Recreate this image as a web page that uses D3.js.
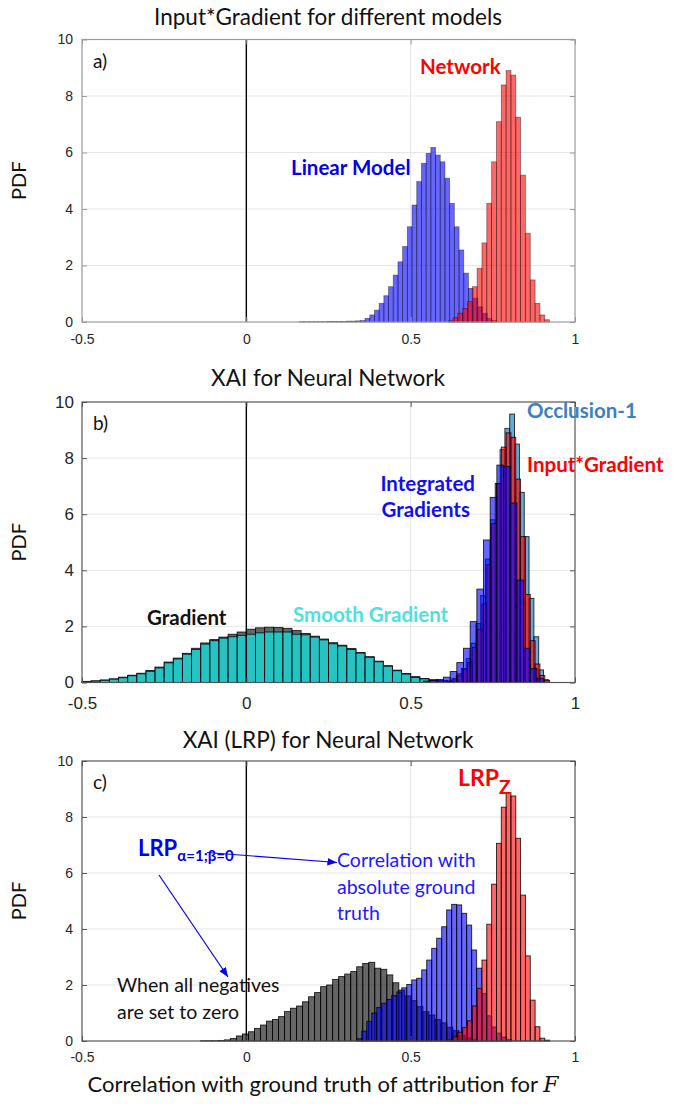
<!DOCTYPE html>
<html><head><meta charset="utf-8">
<script src="https://cdn.jsdelivr.net/npm/d3@7"></script>
<style>body{margin:0;background:#fff}svg{display:block}</style>
</head><body>
<svg id="chart" width="673" height="1104"></svg>
<script>
// ---------------- DATA ----------------
const xTicks = [-0.5, 0, 0.5, 1];
const xTickLabels = ["-0.5", "0", "0.5", "1"];
const yTicks = [0, 2, 4, 6, 8, 10];
const yTickLabels = ["0", "2", "4", "6", "8", "10"];

// Panel a) Input*Gradient for different models
const linearModelStart = 0.161, linearModelBin = 0.0143;
const linearModel = [0.01,0.01,0.01,0.01,0.01,0.01,0.02,0.02,0.02,0.02,0.03,0.03,0.04,0.05,
  0.13,0.25,0.42,0.66,0.93,1.25,1.66,2.13,2.67,3.37,4.14,4.97,5.62,5.97,6.18,5.91,5.67,5.09,
  4.20,3.37,2.55,1.73,1.19,0.84,0.54,0.31,0.13,0.05];
const networkStart = 0.614, networkBin = 0.0147;
const network = [0.04,0.15,0.31,0.48,0.72,1.25,1.90,2.80,4.20,5.67,7.09,8.39,8.90,8.74,7.25,5.20,3.14,1.49,0.66,0.25,0.08];

// Panel b) XAI for Neural Network
const gradStart = -0.5, gradBin = 0.02778;
const gradient = [0.04,0.06,0.09,0.13,0.19,0.26,0.33,0.43,0.55,0.73,0.87,1.04,1.22,1.41,1.53,1.62,1.72,1.80,
  1.90,1.95,1.97,1.96,1.93,1.85,1.75,1.65,1.55,1.42,1.33,1.21,1.07,0.92,0.76,0.60,0.44,0.32,0.21,0.14,0.10,0.07,0.05,0.03,0.02];
const smoothGradient = [0.03,0.05,0.08,0.12,0.17,0.24,0.31,0.40,0.52,0.70,0.84,1.01,1.18,1.37,1.49,1.58,1.63,1.68,
  1.72,1.77,1.80,1.80,1.80,1.72,1.70,1.62,1.52,1.38,1.30,1.18,1.05,0.90,0.74,0.58,0.42,0.30,0.18,0.13,0.06,0.05,0.04,0.03,0.02];
const occlusionStart = 0.625, occlusionBin = 0.0147;
const occlusion = [0.12,0.25,0.50,0.85,1.40,2.10,3.10,4.40,5.80,7.10,8.30,9.06,9.57,8.50,6.78,5.20,3.00,1.63,0.45,0.10];
const inputGradStart = 0.614, inputGradBin = 0.0147;
const inputGradient = [0.04,0.15,0.31,0.48,0.72,1.25,1.90,2.80,4.20,5.67,7.09,8.39,8.90,8.74,7.25,5.20,3.14,1.49,0.66,0.25,0.08];
const intGradStart = 0.539, intGradBin = 0.0203;
const integratedGradients = [0.05,0.08,0.11,0.19,0.39,0.71,1.22,2.17,3.33,5.08,6.60,7.75,7.70,6.40,3.65,1.22,0.50,0.15];

// Panel c) XAI (LRP) for Neural Network
const lrpABStart = -0.140, lrpABBin = 0.0183;
const lrpAlphaBeta = [0.01,0.01,0.01,0.02,0.04,0.09,0.18,0.25,0.33,0.45,0.57,0.71,0.77,0.87,1.05,1.17,1.25,1.40,1.58,1.73,
  1.94,2.00,2.20,2.30,2.39,2.48,2.65,2.77,2.81,2.60,2.56,2.36,2.08,1.82,1.61,1.44,1.23,1.05,0.93,0.77,0.65,0.49,0.37,0.21,0.12,0.05];
const lrpAbsStart = 0.336, lrpAbsBin = 0.0152;
const lrpAbs = [0.08,0.35,0.70,1.00,1.20,1.35,1.48,1.62,1.75,1.90,2.02,2.18,2.24,2.54,2.89,3.31,3.67,4.08,4.68,4.88,4.86,4.56,4.14,3.25,2.60,1.70,0.90,0.50,0.28,0.14,0.05];
const lrpZStart = 0.614, lrpZBin = 0.0147;
const lrpZ = [0.04,0.15,0.31,0.48,0.72,1.25,1.88,2.89,4.17,5.60,7.06,8.35,8.87,8.75,7.24,5.21,3.04,1.46,0.51,0.10,0.03];

// ---------------- DRAWING ----------------
const svg = d3.select("#chart");
const TXT = "Lato, 'Open Sans', sans-serif";
const TICKF = "'Liberation Sans', Arial, sans-serif";
const x = d3.scaleLinear().domain([-0.5, 1]).range([82, 575]);

function panel(cfg) {
  const y = d3.scaleLinear().domain([0, 10]).range([cfg.bottom, cfg.top]);
  const g = svg.append("g");
  g.selectAll(".gy").data(yTicks.filter(t => t > 0 && t < 10)).join("line")
    .attr("x1", x(-0.5)).attr("x2", x(1)).attr("y1", d => y(d)).attr("y2", d => y(d))
    .attr("stroke", "#e6e6e6").attr("stroke-width", 1);
  g.append("line").attr("x1", x(0.5)).attr("x2", x(0.5)).attr("y1", y(0)).attr("y2", y(10))
    .attr("stroke", "#e6e6e6").attr("stroke-width", 1);
  cfg.series.forEach(s => {
    g.append("g").selectAll("rect").data(s.values).join("rect")
      .attr("x", (d, i) => x(s.start + i * s.bin))
      .attr("width", (d, i) => x(s.start + (i + 1) * s.bin) - x(s.start + i * s.bin))
      .attr("y", d => y(d)).attr("height", d => y(0) - y(d))
      .attr("fill", s.color).attr("fill-opacity", s.alpha)
      .attr("stroke", "#000").attr("stroke-opacity", cfg.edgeOpacity).attr("stroke-width", cfg.edgeWidth);
  });
  g.append("line").attr("x1", x(0)).attr("x2", x(0)).attr("y1", y(0)).attr("y2", y(10))
    .attr("stroke", "#000").attr("stroke-width", 1.4);
  const ax = d3.axisBottom(x).tickValues(xTicks).tickFormat((d, i) => xTickLabels[i]).tickSize(-5).tickPadding(cfg.xPad);
  const gx = g.append("g").attr("transform", `translate(0,${cfg.bottom})`).call(ax);
  const ay = d3.axisLeft(y).tickValues(yTicks).tickFormat((d, i) => yTickLabels[i]).tickSize(-5).tickPadding(cfg.yPad);
  const gy = g.append("g").attr("transform", `translate(${x(-0.5)},0)`).call(ay);
  const ay2 = d3.axisRight(y).tickValues(yTicks).tickFormat("").tickSize(-5);
  g.append("g").attr("transform", `translate(${x(1)},0)`).call(ay2);
  const ax2 = d3.axisTop(x).tickValues(xTicks).tickFormat("").tickSize(-5);
  g.append("g").attr("transform", `translate(0,${cfg.top})`).call(ax2);
  g.selectAll(".domain").remove();
  g.selectAll(".tick line").attr("stroke", cfg.boxColor);
  [gx, gy].forEach(a => a.selectAll("text").attr("font-family", TICKF).attr("font-size", cfg.tickSize).attr("fill", "#262626"));
  g.append("rect").attr("x", x(-0.5)).attr("y", y(10)).attr("width", x(1) - x(-0.5)).attr("height", y(0) - y(10))
    .attr("fill", "none").attr("stroke", cfg.boxColor).attr("stroke-width", 1.2);
  g.append("text").attr("x", 328).attr("y", cfg.titleY).attr("text-anchor", "middle")
    .attr("font-family", TXT).attr("font-size", 22.5).attr("fill", "#111").text(cfg.title);
  g.append("text").attr("transform", `translate(26,${(cfg.top + cfg.bottom) / 2}) rotate(-90)`)
    .attr("text-anchor", "middle").attr("font-family", TXT).attr("font-size", 20).attr("fill", "#111").text("PDF");
  g.append("text").attr("x", 93).attr("y", cfg.top + 28).attr("font-family", TXT).attr("font-size", 19)
    .attr("fill", "#111").text(cfg.letter);
  return {g, y};
}
function label(g, txt, xx, yy, color, size, weight, anchor) {
  return g.append("text").attr("x", xx).attr("y", yy).attr("fill", color).attr("font-family", TXT)
    .attr("font-size", size).attr("font-weight", weight || "bold").attr("text-anchor", anchor || "start").text(txt);
}

// a
const pa = panel({top: 39.5, bottom: 322, title: "Input*Gradient for different models", titleY: 25, letter: "a)",
  tickSize: 14, xPad: 12, yPad: 9, boxColor: "#9a9a9a", edgeOpacity: 0.45, edgeWidth: 0.8,
  series: [
    {values: linearModel, start: linearModelStart, bin: linearModelBin, color: "#0000ff", alpha: 0.6},
    {values: network, start: networkStart, bin: networkBin, color: "#ff0000", alpha: 0.6}
  ]});
label(pa.g, "Network", 420, 74, "#ff0000", 20.5);
label(pa.g, "Linear Model", 291, 175, "#0000ee", 20.5);

// b
const pb = panel({top: 402, bottom: 682.5, title: "XAI for Neural Network", titleY: 386, letter: "b)",
  tickSize: 17, xPad: 14, yPad: 8, boxColor: "#555", edgeOpacity: 0.85, edgeWidth: 0.9,
  series: [
    {values: gradient, start: gradStart, bin: gradBin, color: "#000000", alpha: 0.6},
    {values: smoothGradient, start: gradStart, bin: gradBin, color: "#00ffff", alpha: 0.6},
    {values: occlusion, start: occlusionStart, bin: occlusionBin, color: "#0072bd", alpha: 0.6},
    {values: inputGradient, start: inputGradStart, bin: inputGradBin, color: "#ff0000", alpha: 0.6},
    {values: integratedGradients, start: intGradStart, bin: intGradBin, color: "#0000ff", alpha: 0.6}
  ]});
label(pb.g, "Occlusion-1", 527, 418, "#3d7fc0", 20.5);
label(pb.g, "Input*Gradient", 527, 472, "#ff0000", 20.5);
label(pb.g, "Integrated", 475, 491, "#1010ee", 20.5, "bold", "end");
label(pb.g, "Gradients", 470, 517, "#1010ee", 20.5, "bold", "end");
label(pb.g, "Gradient", 147, 625, "#111", 20.5);
label(pb.g, "Smooth Gradient", 293, 622, "#4fe0e0", 20.5);

// c
const pc = panel({top: 761, bottom: 1041, title: "XAI (LRP) for Neural Network", titleY: 748, letter: "c)",
  tickSize: 14, xPad: 11, yPad: 9, boxColor: "#555", edgeOpacity: 0.85, edgeWidth: 0.9,
  series: [
    {values: lrpAlphaBeta, start: lrpABStart, bin: lrpABBin, color: "#000000", alpha: 0.6},
    {values: lrpAbs, start: lrpAbsStart, bin: lrpAbsBin, color: "#0000ff", alpha: 0.6},
    {values: lrpZ, start: lrpZStart, bin: lrpZBin, color: "#ff0000", alpha: 0.6}
  ]});
const tz = pc.g.append("text").attr("x", 458).attr("y", 786).attr("fill", "#ff0000").attr("font-family", TXT).attr("font-weight", "bold");
tz.append("tspan").attr("font-size", 23).text("LRP");
tz.append("tspan").attr("font-size", 19).attr("dy", 8).text("Z");
const tab = pc.g.append("text").attr("x", 138).attr("y", 856).attr("fill", "#0000ee").attr("font-family", TXT).attr("font-weight", "bold");
tab.append("tspan").attr("font-size", 22).text("LRP");
tab.append("tspan").attr("font-size", 15).attr("dy", 5).text("α=1;β=0");
const defs = svg.append("defs");
defs.append("marker").attr("id", "ah").attr("viewBox", "0 0 10 10").attr("refX", 10).attr("refY", 5)
  .attr("markerWidth", 8).attr("markerHeight", 8).attr("orient", "auto-start-reverse")
  .append("path").attr("d", "M0,1 L10,5 L0,9 Z").attr("fill", "#0000ee");
pc.g.append("line").attr("x1", 207).attr("y1", 852.5).attr("x2", 337).attr("y2", 862.5)
  .attr("stroke", "#0000ee").attr("stroke-width", 1.2).attr("marker-end", "url(#ah)");
pc.g.append("line").attr("x1", 159).attr("y1", 875).attr("x2", 228).attr("y2", 977)
  .attr("stroke", "#0000ee").attr("stroke-width", 1.2).attr("marker-end", "url(#ah)");
["Correlation with", "absolute ground", "truth"].forEach((t, i) =>
  label(pc.g, t, 337, 867 + i * 26.5, "#1a1aff", 19.5, "normal"));
["When all negatives", "are set to zero"].forEach((t, i) =>
  label(pc.g, t, 117, 992 + i * 26.5, "#111", 19.5, "normal"));

const xt = svg.append("text").attr("x", 323).attr("y", 1092).attr("text-anchor", "middle")
  .attr("font-family", TXT).attr("font-size", 22).attr("fill", "#111");
xt.append("tspan").text("Correlation with ground truth of attribution for ");
xt.append("tspan").attr("font-family", "'DejaVu Serif', 'Liberation Serif', serif").attr("font-style", "italic").text("F");
</script>
</body></html>
